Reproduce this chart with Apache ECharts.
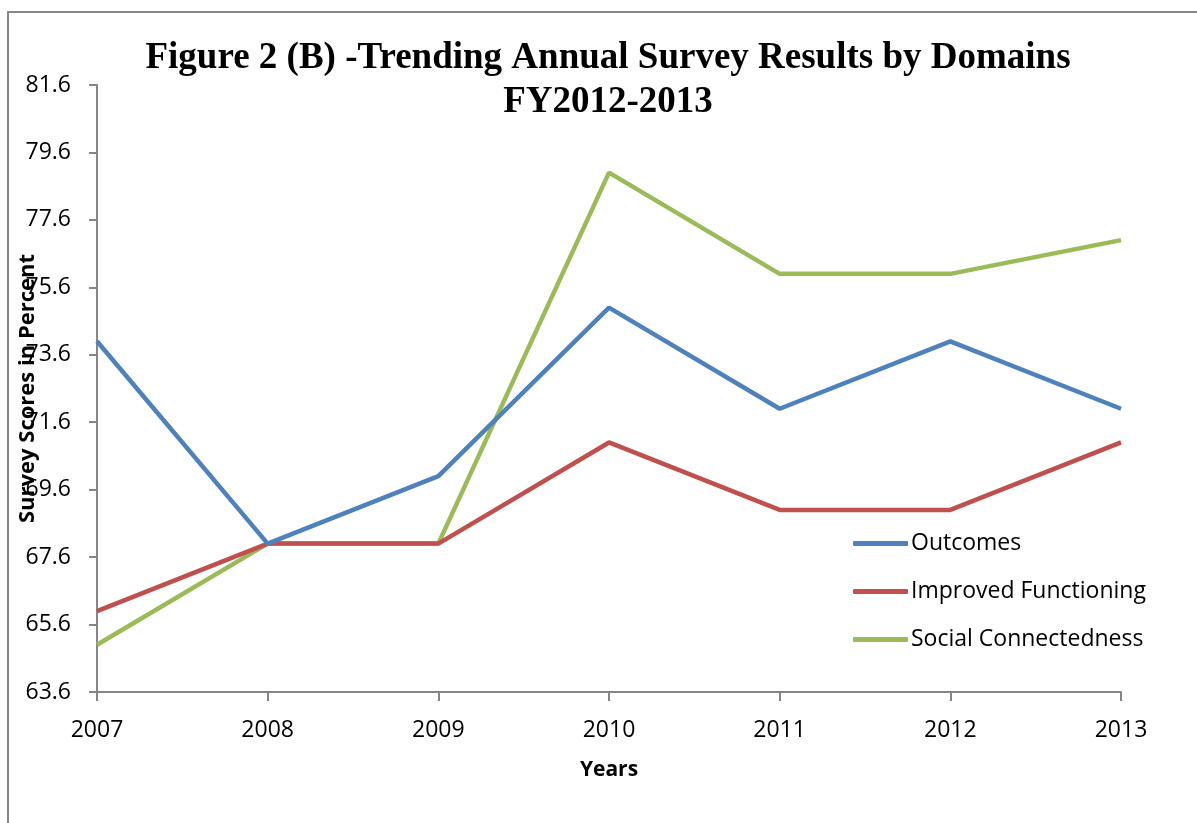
<!DOCTYPE html>
<html>
<head>
<meta charset="utf-8">
<script src="https://cdn.jsdelivr.net/npm/echarts@6/dist/echarts.min.js"></script>
<style>
  html, body { margin: 0; padding: 0; background: #fff; }
  #chart { width: 1197px; height: 823px; }
</style>
</head>
<body>
<div id="chart"></div>
<script>
// Survey years on the horizontal axis
const years = ['2007', '2008', '2009', '2010', '2011', '2012', '2013'];

// Domain scores, in percent
const outcomes = [74, 68, 70, 75, 72, 74, 72];
const improvedFunctioning = [66, 68, 68, 71, 69, 69, 71];
const socialConnectedness = [65, 68, 68, 79, 76, 76, 77];

const seriesNames = ['Outcomes', 'Improved Functioning', 'Social Connectedness'];
const seriesColors = ['#4F81BD', '#C0504D', '#9BBB59'];

const chart = echarts.init(document.getElementById('chart'), null, { renderer: 'canvas' });

const labelFont = '"Open Sans", "Noto Sans", sans-serif';

const option = {
  backgroundColor: '#ffffff',
  animation: false,
  title: {
    text: 'Figure 2 (B) -Trending Annual Survey Results by Domains\nFY2012-2013',
    left: 608,
    top: 36,
    padding: 0,
    textAlign: 'center',
    textStyle: {
      fontFamily: '"Liberation Serif", "Times New Roman", serif',
      fontWeight: 'bold',
      fontSize: 37,
      lineHeight: 44,
      color: '#000'
    }
  },
  legend: {
    orient: 'vertical',
    left: 853,
    top: 530,
    padding: 0,
    itemWidth: 55,
    itemHeight: 5,
    itemGap: 21,
    icon: 'roundRect',
    data: seriesNames,
    textStyle: {
      fontFamily: labelFont,
      fontSize: 23,
      lineHeight: 27,
      color: '#000',
      padding: [0, 0, 0, -2]
    }
  },
  grid: {
    left: 97,
    right: 76,
    top: 85,
    bottom: 131,
    containLabel: false,
    outerBoundsMode: 'none'
  },
  xAxis: {
    type: 'category',
    data: years,
    boundaryGap: false,
    name: 'Years',
    nameLocation: 'middle',
    nameGap: 68,
    nameTextStyle: {
      fontFamily: labelFont,
      fontWeight: 'bold',
      fontSize: 21,
      color: '#000'
    },
    axisLine: { lineStyle: { color: '#868686', width: 2 } },
    axisTick: { show: true, alignWithLabel: true, length: 9, lineStyle: { color: '#868686', width: 2 } },
    axisLabel: {
      margin: 27,
      fontFamily: labelFont,
      fontSize: 23,
      color: '#000'
    },
    splitLine: { show: false }
  },
  yAxis: {
    type: 'value',
    min: 63.6,
    max: 81.6,
    interval: 2,
    name: 'Survey Scores in Percent',
    nameLocation: 'middle',
    nameGap: 58,
    nameRotate: 90,
    nameMoveOverlap: false,
    nameTextStyle: {
      fontFamily: labelFont,
      fontWeight: 'bold',
      fontSize: 22,
      color: '#000'
    },
    axisLine: { show: true, lineStyle: { color: '#868686', width: 2 } },
    axisTick: { show: true, length: 8, lineStyle: { color: '#868686', width: 2 } },
    axisLabel: {
      margin: 26,
      fontFamily: labelFont,
      fontSize: 23,
      color: '#000',
      formatter: v => v.toFixed(1)
    },
    splitLine: { show: false }
  },
  graphic: [{
    type: 'rect',
    silent: true,
    z: -1,
    shape: { x: 8, y: 12, width: 1400, height: 1000 },
    style: { fill: 'none', stroke: '#888888', lineWidth: 2 }
  }],
  series: [
    { name: seriesNames[0], data: outcomes },
    { name: seriesNames[1], data: improvedFunctioning },
    { name: seriesNames[2], data: socialConnectedness }
  ].map((s, i) => ({
    name: s.name,
    type: 'line',
    data: s.data,
    symbol: 'none',
    color: seriesColors[i],
    lineStyle: { color: seriesColors[i], width: 4.5 },
    z: 3 + (2 - i)
  }))
};

chart.setOption(option);
</script>
</body>
</html>
